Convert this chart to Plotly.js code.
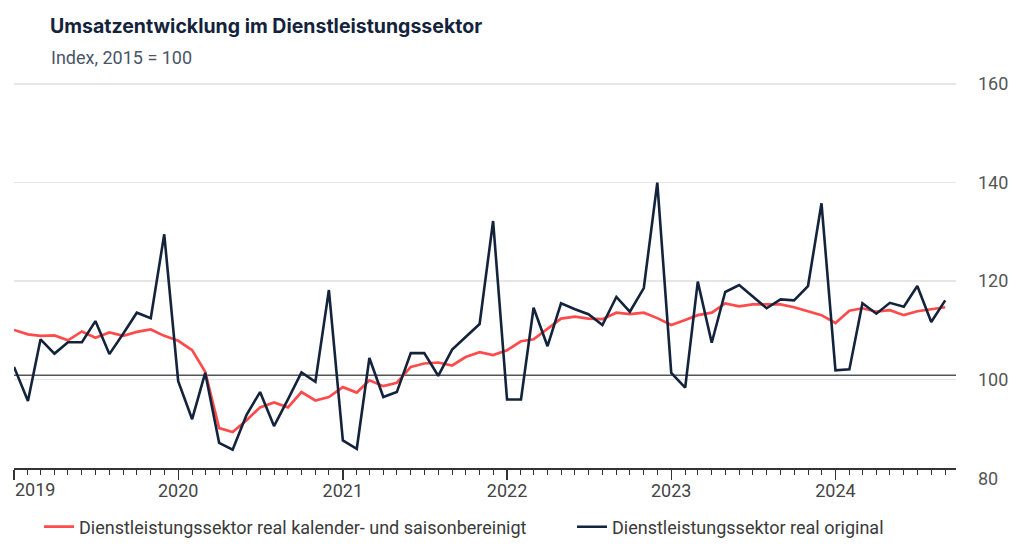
<!DOCTYPE html>
<html>
<head>
<meta charset="utf-8">
<script src="https://cdn.plot.ly/plotly-3.0.1.min.js"></script>
<style>html,body{margin:0;padding:0;background:#fff;}#chart{width:1024px;height:557px;}</style>
</head>
<body>
<div id="chart"></div>
<script>
// Monthly data, Jan 2019 – Sep 2024
const startYear = 2019;
const monthCount = 69;
const months = [];
for (let i = 0; i < monthCount; i++) {
  const y = startYear + Math.floor(i / 12);
  const m = (i % 12) + 1;
  months.push(y + '-' + String(m).padStart(2, '0') + '-01');
}

const seriesNames = [
  'Dienstleistungssektor real kalender- und saisonbereinigt',
  'Dienstleistungssektor real original'
];

const adjusted = [
  110.1, 109.2, 108.9, 109.0, 108.0, 109.8, 108.5, 109.6, 108.9, 109.7, 110.2, 108.9,
  107.9, 106.0, 101.6, 90.2, 89.4, 91.8, 94.4, 95.4, 94.4, 97.5, 95.8, 96.5,
  98.5, 97.4, 99.9, 98.7, 99.4, 102.6, 103.3, 103.5, 102.9, 104.6, 105.6, 105.0,
  106.0, 107.8, 108.2, 110.3, 112.4, 112.8, 112.4, 112.3, 113.6, 113.3, 113.6, 112.5,
  111.1, 112.1, 113.1, 113.6, 115.5, 114.9, 115.3, 115.3, 115.3, 114.7, 113.9, 113.1,
  111.5, 114.0, 114.5, 113.8, 114.1, 113.1, 113.9, 114.3, 114.7
];

const original = [
  102.6, 95.7, 108.2, 105.3, 107.6, 107.6, 111.9, 105.2, 109.4, 113.6, 112.5, 129.5,
  99.7, 92.0, 101.4, 87.2, 85.8, 92.9, 97.5, 90.6, 96.0, 101.5, 99.6, 118.2,
  87.7, 86.0, 104.4, 96.5, 97.5, 105.4, 105.4, 100.8, 106.1, 108.7, 111.3, 132.2,
  96.0, 96.0, 114.6, 106.8, 115.5, 114.3, 113.3, 111.1, 116.8, 113.8, 118.6, 140.0,
  101.4, 98.4, 119.9, 107.5, 117.8, 119.2, 116.8, 114.5, 116.3, 116.1, 119.0, 135.8,
  101.9, 102.1, 115.5, 113.4, 115.6, 114.8, 119.0, 111.7, 116.1
];

const yearTickVals = ['2019-01-01', '2020-01-01', '2021-01-01', '2022-01-01', '2023-01-01', '2024-01-01'];
const yearTickText = ['', '2020', '2021', '2022', '2023', '2024'];
const firstYearLabel = '2019';

const yTicks = [100, 120, 140, 160];
const yTickBelow = 80;
const refLine = 100.9;

const titleText = 'Umsatzentwicklung im Dienstleistungssektor';
const subtitleText = 'Index, 2015 = 100';

const yMin = 82.1, yMax = 161;
const mT = 79, mB = 89, mL = 14, mR = 68;
const plotH = 557 - mT - mB;
const plotW = 1024 - mL - mR;
const labelFont = 'Roboto, Inter, sans-serif';

const traces = [
  {
    x: months, y: adjusted, name: seriesNames[0], type: 'scatter', mode: 'lines',
    line: {color: '#ff4b4b', width: 2.7}, legend: 'legend'
  },
  {
    x: months, y: original, name: seriesNames[1], type: 'scatter', mode: 'lines',
    line: {color: '#14233c', width: 2.6}, legend: 'legend2'
  }
];

const legendBase = {
  orientation: 'h', xanchor: 'left', yanchor: 'middle',
  y: (468 - 527) / plotH,
  font: {family: labelFont, size: 18, color: '#3a3a3a'},
  bgcolor: 'rgba(0,0,0,0)', itemwidth: 30
};

const layout = {
  width: 1024, height: 557,
  margin: {l: mL, r: mR, t: mT, b: mB},
  paper_bgcolor: '#ffffff', plot_bgcolor: '#ffffff',
  font: {family: labelFont, color: '#444', size: 18},
  title: {
    text: titleText,
    font: {family: 'Inter, sans-serif', size: 19.5, color: '#14233c', weight: 700},
    xref: 'container', yref: 'container',
    x: 50 / 1024, xanchor: 'left', y: 1 - 26 / 557, yanchor: 'middle'
  },
  showlegend: true,
  legend: Object.assign({}, legendBase, {x: (39 - mL) / plotW}),
  legend2: Object.assign({}, legendBase, {x: (572 - mL) / plotW}),
  xaxis: {
    type: 'date',
    range: ['2019-01-01', '2024-09-25'],
    tickmode: 'array', tickvals: yearTickVals, ticktext: yearTickText,
    ticks: 'outside', ticklen: 10, tickwidth: 1.3, tickcolor: '#333',
    showline: true, linecolor: '#333', linewidth: 1.6,
    showgrid: false, zeroline: false,
    ticklabelstandoff: -4,
    tickfont: {family: labelFont, size: 18, color: '#444'},
    minor: {dtick: 'M1', tick0: '2019-01-01', ticks: 'outside', ticklen: 5, tickwidth: 1, tickcolor: '#333', showgrid: false}
  },
  yaxis: {
    side: 'right',
    range: [yMin, yMax],
    tickvals: yTicks,
    ticktext: yTicks.map(String),
    showgrid: true, gridcolor: '#e6e6e6', gridwidth: 1.3,
    zeroline: false, showline: false, ticks: '',
    ticklabelstandoff: 21,
    tickfont: {family: labelFont, size: 18, color: '#555'}
  },
  shapes: [
    {type: 'line', xref: 'paper', x0: 0, x1: 1, yref: 'y', y0: refLine, y1: refLine,
     line: {color: '#555', width: 1.5}, layer: 'below'}
  ],
  annotations: [
    {text: subtitleText, xref: 'paper', yref: 'paper', x: (49 - mL) / plotW, y: (468 - 57) / plotH,
     xanchor: 'left', yanchor: 'middle', showarrow: false, font: {family: labelFont, size: 18, color: '#4a5568'}},
    {text: String(yTickBelow), xref: 'paper', yref: 'paper', x: 1, y: (468 - 478) / plotH,
     xanchor: 'left', yanchor: 'middle', xshift: 20, showarrow: false, font: {family: labelFont, size: 18, color: '#555'}},
    {text: firstYearLabel, xref: 'x', yref: 'paper', x: yearTickVals[0], y: (468 - 490) / plotH,
     xanchor: 'left', yanchor: 'middle', xshift: -1, showarrow: false, font: {family: labelFont, size: 18, color: '#444'}}
  ]
};

Plotly.newPlot('chart', traces, layout, {displayModeBar: false, staticPlot: true});
</script>
</body>
</html>
